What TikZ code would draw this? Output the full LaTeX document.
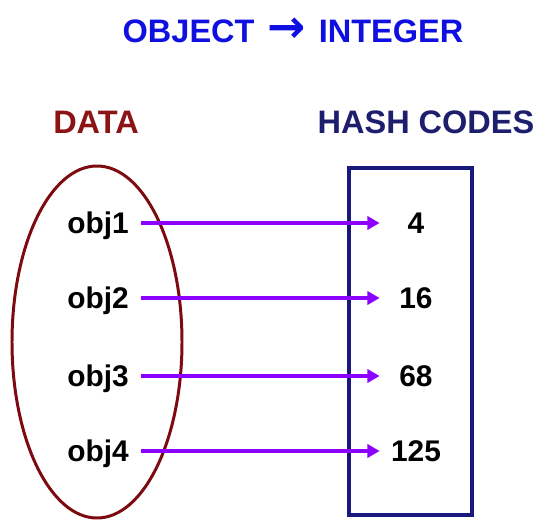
\documentclass[tikz,border=0pt]{standalone}
\usepackage{fontspec}
\setmainfont{Liberation Sans}
\newfontfamily\arrowfont{DejaVu Sans}
\usetikzlibrary{arrows.meta}
\definecolor{titleblue}{RGB}{15,15,225}
\definecolor{datared}{RGB}{140,20,20}
\definecolor{ovalred}{RGB}{125,10,15}
\definecolor{codenavy}{RGB}{30,30,110}
\definecolor{boxnavy}{RGB}{25,25,125}
\definecolor{linkpurple}{RGB}{140,0,255}
\begin{document}
\begin{tikzpicture}[x=0.02cm, y=-0.02cm,
  head/.style={font=\fontsize{18.5}{20}\selectfont\bfseries, inner sep=0pt},
  objlbl/.style={font=\fontsize{17}{19}\selectfont\bfseries, anchor=west,
    inner sep=0pt, text height=12pt, text depth=0pt},
  codelbl/.style={font=\fontsize{17}{19}\selectfont\bfseries,
    inner sep=0pt, text height=12pt, text depth=0pt, minimum width=1.44cm},
  link/.style={draw=linkpurple, line width=2.4pt,
    -{Triangle[length=7pt,width=7.5pt]}, shorten <=7pt}]
  \useasboundingbox (0,0) rectangle (538,520);
  %% ── Headings ───────────────────────────────────────────────
  \node[head, text=titleblue] (title) at (293,30)
    {OBJECT\hspace{0.4em}{\arrowfont\bfseries\fontsize{26}{26}\selectfont →}\hspace{0.4em}INTEGER};
  \node[head, text=datared]  (datahd) at (96,122) {DATA};
  \node[head, text=codenavy] (codehd) at (426,122) {HASH CODES};
  %% ── Data oval and hash code box ────────────────────────────
  \draw[ovalred, line width=1.7pt] (97,342) ellipse [x radius=85, y radius=176];
  \draw[boxnavy, line width=2.2pt] (349,168) rectangle (472,515);
  %% ── Rows: index / y / hash code ────────────────────────────
  \foreach \i/\y/\val in {1/223/4, 2/298/16, 3/376/68, 4/451/125}{
    \node[objlbl]  (obj\i)  at (67,\y)  {obj\i};
    \node[codelbl] (code\i) at (416,\y) {\val};
    \draw[link] (obj\i.east) -- (code\i.west);
  }
\end{tikzpicture}
\end{document}
